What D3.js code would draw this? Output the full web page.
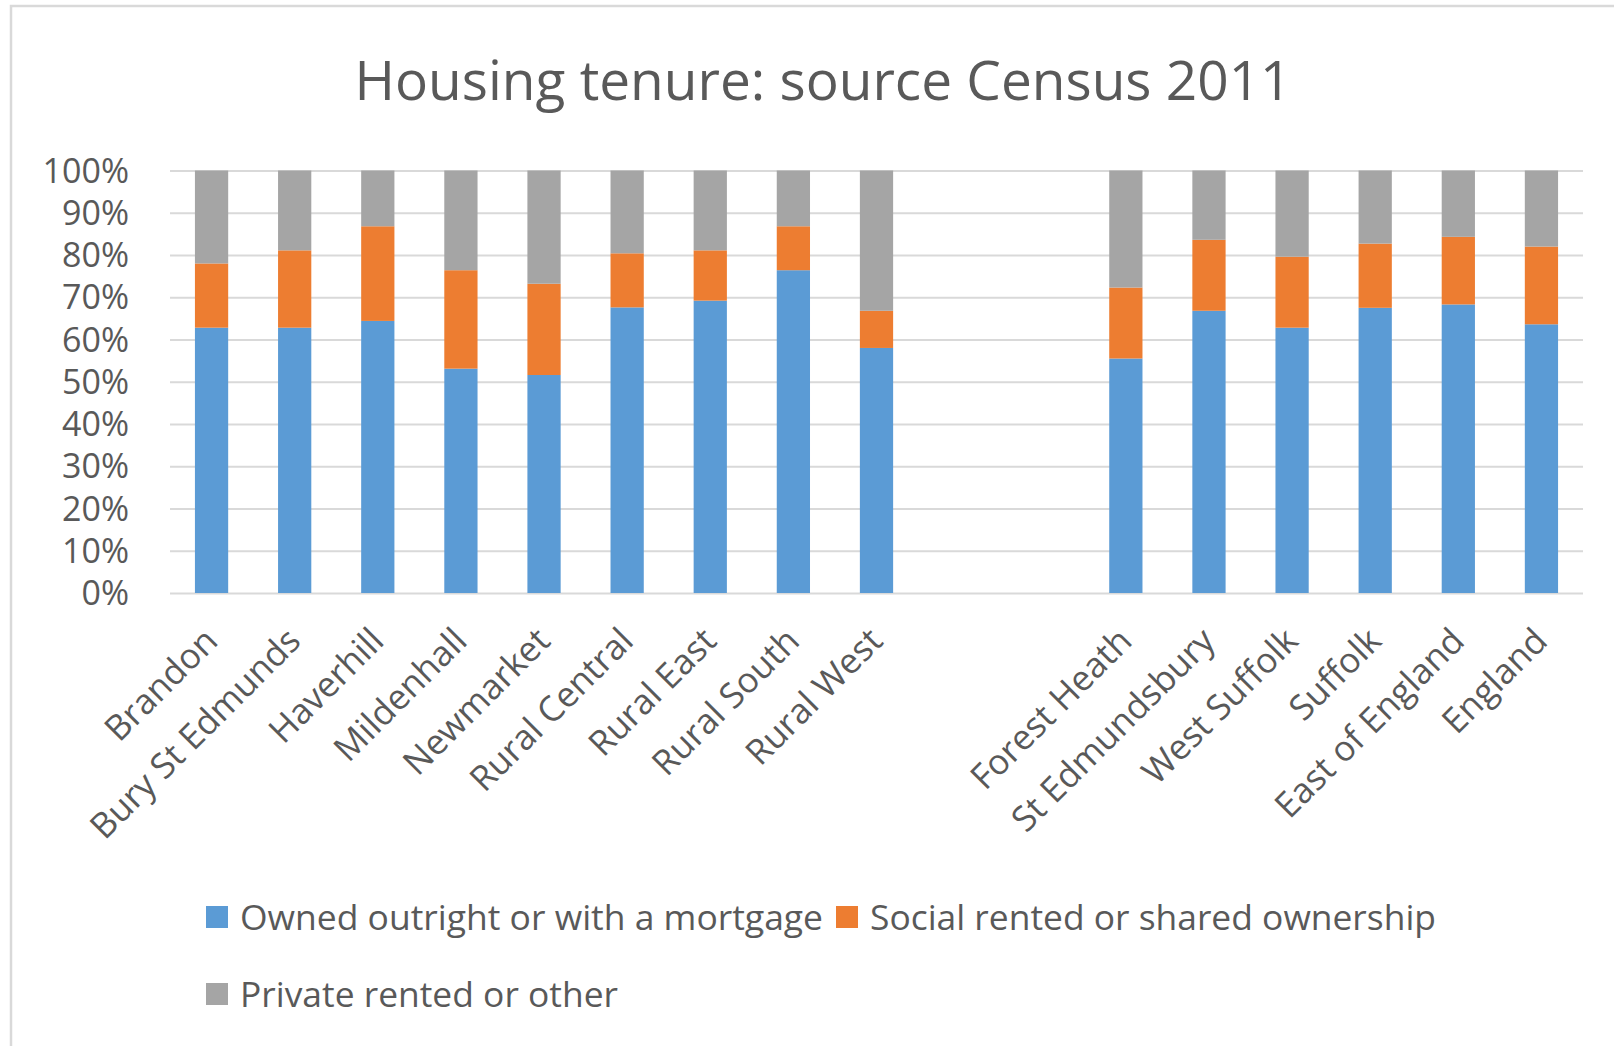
<!DOCTYPE html>
<html>
<head>
<meta charset="utf-8">
<script src="https://cdn.jsdelivr.net/npm/d3@7"></script>
<style>
  html, body { margin: 0; padding: 0; background: #fff; }
  svg { display: block; }
  text { font-family: "Open Sans", "Noto Sans", sans-serif; fill: #595959; }
</style>
</head>
<body>
<svg id="chart" width="1614" height="1046"></svg>
<script>
// ---- data (percent) ----
const categories = ["Brandon","Bury St Edmunds","Haverhill","Mildenhall","Newmarket","Rural Central","Rural East","Rural South","Rural West"," ","  ","Forest Heath","St Edmundsbury","West Suffolk","Suffolk","East of England","England"];
const owned   = [62.8, 62.8, 64.4, 53.1, 51.6, 67.6, 69.2, 76.4, 58.0, null, null, 55.5, 66.8, 62.8, 67.5, 68.3, 63.6];
const social  = [15.2, 18.3, 22.4, 23.3, 21.6, 12.8, 11.9, 10.4,  8.8, null, null, 16.8, 16.8, 16.8, 15.2, 16.0, 18.4];
const privateRented = [22.0, 18.9, 13.2, 23.6, 26.8, 19.6, 18.9, 13.2, 33.2, null, null, 27.7, 16.4, 20.4, 17.3, 15.7, 18.0];
const seriesNames = ["Owned outright or with a mortgage","Social rented or shared ownership","Private rented or other"];
const seriesColors = ["#5B9BD5","#ED7D31","#A5A5A5"];
const yTicks = [0,10,20,30,40,50,60,70,80,90,100];
const titleText = "Housing tenure: source Census 2011";

const svg = d3.select("#chart");
const W = 1614, H = 1046;

// chart border
svg.append("rect").attr("x", 11).attr("y", 6).attr("width", W).attr("height", H + 40)
  .attr("fill", "#fff").attr("stroke", "#d9d9d9").attr("stroke-width", 2.5);

const plot = { left: 170, right: 1583, top: 170.5, bottom: 593 };

const x = d3.scaleBand().domain(categories).range([plot.left, plot.right])
  .paddingInner(0.6).paddingOuter(0.3);
const y = d3.scaleLinear().domain([0, 100]).range([plot.bottom, plot.top]);

// gridlines
const grid = svg.append("g").attr("transform", `translate(${plot.left},0)`)
  .call(d3.axisLeft(y).tickValues(yTicks).tickSize(-(plot.right - plot.left)).tickFormat(""));
grid.select(".domain").remove();
grid.selectAll("line").attr("stroke", "#d9d9d9").attr("stroke-width", 2.2);

// y axis labels
const yAxis = svg.append("g").attr("transform", `translate(${plot.left},0)`)
  .call(d3.axisLeft(y).tickValues(yTicks).tickSize(0).tickPadding(41).tickFormat(d => d + "%"));
yAxis.select(".domain").remove();
yAxis.selectAll("text").style("font-size", "34px").attr("fill", "#595959")
  .attr("dy", "0.34em");

// stacked bars
const rows = categories.map((c, i) => ({ cat: c, s0: owned[i], s1: social[i], s2: privateRented[i] }));
const stack = d3.stack().keys(["s0","s1","s2"]).value((d, k) => d[k] == null ? 0 : d[k]);
const stacked = stack(rows);

stacked.forEach((layer, li) => {
  svg.append("g").selectAll("rect")
    .data(layer.filter(d => d.data.s0 != null))
    .join("rect")
    .attr("x", d => x(d.data.cat))
    .attr("width", x.bandwidth())
    .attr("y", d => y(d[1]))
    .attr("height", d => y(d[0]) - y(d[1]))
    .attr("fill", seriesColors[li]);
});

// x axis labels
const xAxis = svg.append("g").attr("transform", `translate(0,${plot.bottom})`)
  .call(d3.axisBottom(x).tickSize(0).tickPadding(0));
xAxis.select(".domain").remove();
xAxis.selectAll("text")
  .style("font-size", "35px").attr("fill", "#595959")
  .attr("text-anchor", "end")
  .attr("y", 0).attr("dy", 0)
  .attr("transform", "translate(8,50) rotate(-45)");

// title
svg.append("text").attr("x", 823).attr("y", 100).attr("text-anchor", "middle")
  .style("font-size", "55px").attr("textLength", 937).attr("lengthAdjust", "spacingAndGlyphs")
  .text(titleText);

// legend
const legendItems = [
  { name: seriesNames[0], color: seriesColors[0], x: 206, y: 906, w: 583 },
  { name: seriesNames[1], color: seriesColors[1], x: 836, y: 906, w: 566 },
  { name: seriesNames[2], color: seriesColors[2], x: 206, y: 983, w: 378 }
];
const lg = svg.append("g");
legendItems.forEach(it => {
  lg.append("rect").attr("x", it.x).attr("y", it.y).attr("width", 22).attr("height", 22).attr("fill", it.color);
  lg.append("text").attr("x", it.x + 34).attr("y", it.y + 24)
    .style("font-size", "34px").attr("textLength", it.w).attr("lengthAdjust", "spacingAndGlyphs")
    .text(it.name);
});
</script>
</body>
</html>
